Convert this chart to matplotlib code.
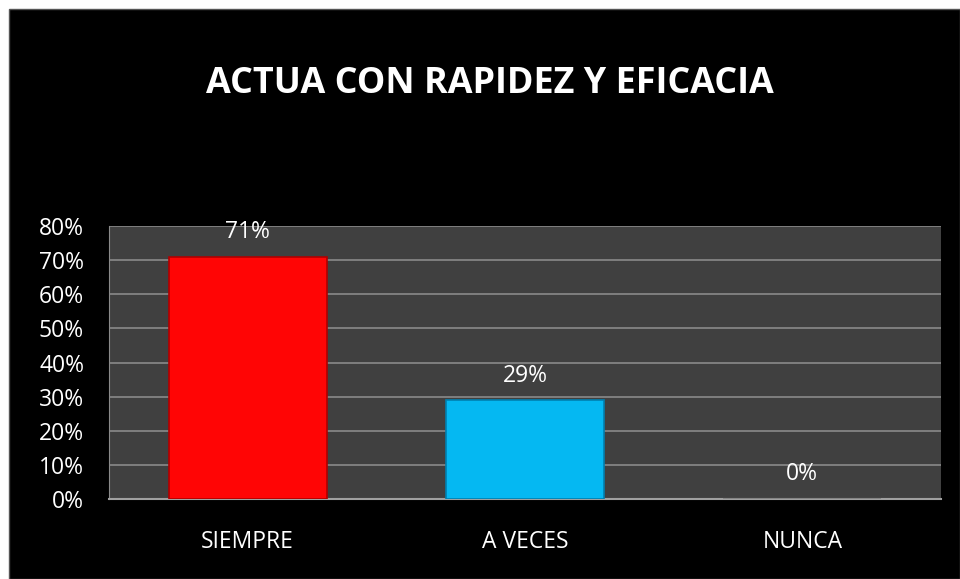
import matplotlib.pyplot as plt
from matplotlib.patches import Rectangle

categories = ['SIEMPRE', 'A VECES', 'NUNCA']
values = [0.71, 0.29, 0.0]
labels = ['71%', '29%', '0%']
colors = ['#FF0505', '#05B8F2', '#808080']
edges = ['#B00000', '#0080B0', '#808080']
yticks = [0, 0.1, 0.2, 0.3, 0.4, 0.5, 0.6, 0.7, 0.8]

W, H = 960, 579
fig = plt.figure(figsize=(W / 100, H / 100), dpi=100)
fig.patch.set_facecolor('white')
fig.patches.append(Rectangle((9 / W, 0), 1 - 9 / W, 1 - 9 / H, transform=fig.transFigure,
                             facecolor='black', edgecolor='#555555', linewidth=1, zorder=-10))

ax = fig.add_axes([109 / W, 1 - 499 / H, (941 - 109) / W, (499 - 226) / H])
ax.set_facecolor('#404040')
x = range(len(categories))
bars = ax.bar(x, values, width=0.57, color=colors, edgecolor=edges, linewidth=1.2, zorder=3)
ax.set_xlim(-0.5, 2.5)
ax.set_ylim(0, 0.8)
ax.set_yticks(yticks)
ax.set_yticklabels([f'{int(round(t * 100))}%' for t in yticks])
ax.set_xticks(list(x))
ax.set_xticklabels(categories)
ax.grid(axis='y', color='#8a8a8a', linewidth=1.2, zorder=1)
ax.tick_params(length=0, colors='white', labelsize=16.5)
ax.tick_params(axis='x', pad=22)
ax.tick_params(axis='y', pad=18)
for lbl in ax.get_xticklabels() + ax.get_yticklabels():
    lbl.set_fontfamily('Open Sans')
for s in ['top', 'right']:
    ax.spines[s].set_visible(False)
ax.spines['left'].set_color('#8a8a8a')
ax.spines['bottom'].set_color('#a0a0a0')
ax.spines['bottom'].set_linewidth(1.5)

for i, (v, t) in enumerate(zip(values, labels)):
    ax.annotate(t, (i, v), xytext=(0, 9), textcoords='offset points', ha='center', va='bottom',
                color='white', fontsize=16.5, fontfamily='Open Sans', zorder=4)

fig.text(490 / W, 1 - 84 / H, 'ACTUA CON RAPIDEZ Y EFICACIA', ha='center', va='center',
         color='white', fontsize=25.8, fontweight='bold', fontfamily='Open Sans')

fig.savefig('out.png', dpi=100, facecolor=fig.get_facecolor())
